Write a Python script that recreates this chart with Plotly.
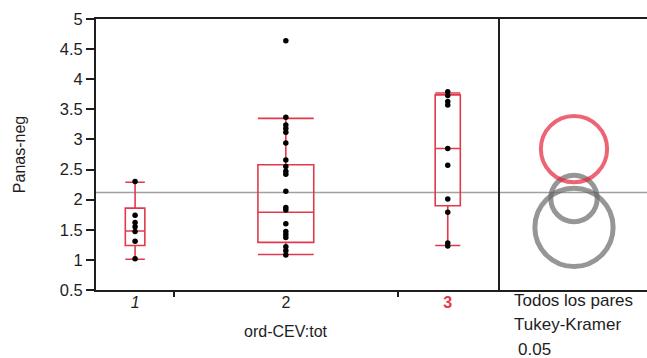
import numpy as np
import plotly.graph_objects as go

# ---------------- data ----------------
categories = ["1", "2", "3"]
category_labels = ["<i>1</i>", "2", "<span style='color:#E3384A'><b>3</b></span>"]
group_sizes = [7, 20, 9]          # JMP makes each category width proportional to n

g1_values = [2.30, 1.74, 1.62, 1.55, 1.47, 1.31, 1.02]
g2_values = [4.64, 3.37, 3.24, 3.18, 3.12, 2.94, 2.66, 2.55, 2.47, 2.42,
             2.14, 1.87, 1.83, 1.60, 1.47, 1.42, 1.37, 1.22, 1.15, 1.08]
g3_values = [3.79, 3.73, 3.63, 3.57, 2.85, 2.57, 2.01, 1.79, 1.28, 1.23]

box_q1 = [1.24, 1.29, 1.90]
box_median = [1.48, 1.79, 2.85]
box_q3 = [1.86, 2.58, 3.74]
box_lower_whisker = [1.01, 1.09, 1.24]
box_upper_whisker = [2.29, 3.35, 3.77]

grand_mean = 2.12
circle_centers = [1.54, 2.02, 2.84]   # group means
circle_radii = [0.65, 0.385, 0.55]    # comparison-circle radii (y units)
circle_colors = ["#6A6A6A", "#6A6A6A", "#E6243A"]
circle_widths = [5, 5, 4]

y_ticks = [0.5, 1, 1.5, 2, 2.5, 3, 3.5, 4, 4.5, 5]
y_title = "Panas-neg"
x_title = "ord-CEV:tot"
panel_text = ["Todos los pares", "Tukey-Kramer", "0.05"]

# ---------------- layout constants ----------------
W, H = 647, 358
ML, MR, MT, MB = 96, 0, 19, 68
plot_w = W - ML - MR
plot_h = H - MT - MB
main_w = 402
split = main_w / plot_w
y_range = [0.5, 5]
px_per_unit = plot_h / (y_range[1] - y_range[0])

BOX_RED = "#E23A4C"
FONT = "Liberation Sans, Arial, sans-serif"
TXT = "#1e1e1e"

bounds = np.concatenate([[0], np.cumsum(group_sizes)])
centers = (bounds[:-1] + bounds[1:]) / 2
groups = [g1_values, g2_values, g3_values]

fig = go.Figure()

for i, vals in enumerate(groups):
    fig.add_trace(go.Box(
        x=[centers[i]], q1=[box_q1[i]], median=[box_median[i]], q3=[box_q3[i]],
        lowerfence=[box_lower_whisker[i]], upperfence=[box_upper_whisker[i]],
        width=0.25 * group_sizes[i], whiskerwidth=1,
        line=dict(color=BOX_RED, width=1.6), fillcolor="rgba(0,0,0,0)",
        boxpoints=False, hoverinfo="skip", showlegend=False,
        xaxis="x", yaxis="y"))

for i, vals in enumerate(groups):
    fig.add_trace(go.Scatter(
        x=[centers[i]] * len(vals), y=vals, mode="markers",
        marker=dict(color="black", size=5.5), hoverinfo="skip",
        showlegend=False, xaxis="x", yaxis="y"))

# comparison circles
fig.add_trace(go.Scatter(
    x=[0] * len(circle_centers), y=circle_centers, mode="markers",
    marker=dict(symbol="circle-open",
                size=[2 * r * px_per_unit for r in circle_radii],
                color=circle_colors,
                line=dict(color=circle_colors, width=circle_widths)),
    hoverinfo="skip", showlegend=False, xaxis="x2", yaxis="y"))

fig.add_shape(type="line", xref="paper", yref="y", x0=0, x1=1,
              y0=grand_mean, y1=grand_mean,
              line=dict(color="#A0A0A0", width=1.5), layer="below")

fig.update_layout(
    width=W, height=H, margin=dict(l=ML, r=MR, t=MT, b=MB),
    paper_bgcolor="white", plot_bgcolor="white",
    font=dict(family=FONT, size=16, color=TXT),
    xaxis=dict(domain=[0, split], range=[bounds[0], bounds[-1]],
               showgrid=False, zeroline=False, showline=True, mirror=True,
               linecolor=TXT, linewidth=2,
               tickvals=list(centers), ticktext=category_labels,
               ticks="outside", ticklen=0, ticklabelstandoff=-3,
               minor=dict(tickvals=list(bounds[1:-1]), ticks="outside",
                          ticklen=5, tickcolor=TXT, tickwidth=1.5),
               tickfont=dict(size=16, color=TXT), anchor="y"),
    xaxis2=dict(domain=[split, 1], range=[-0.51, 0.49], showgrid=False,
                zeroline=False, showline=True, mirror=True,
                linecolor=TXT, linewidth=2, showticklabels=False,
                ticks="", anchor="y"),
    yaxis=dict(range=y_range, tickvals=y_ticks,
               ticktext=[f"{v:g}" for v in y_ticks],
               showgrid=False, zeroline=False, showline=True, mirror=True,
               linecolor=TXT, linewidth=2, ticks="outside", ticklen=8,
               tickcolor=TXT, tickwidth=1.5,
               tickfont=dict(size=16.5, color=TXT),
               title=dict(text=y_title, font=dict(size=16, color=TXT), standoff=30)),
)

fig.add_annotation(text=x_title, xref="paper", yref="paper",
                   x=(286 - ML) / plot_w, y=-(331 - MT - plot_h) / plot_h,
                   showarrow=False, font=dict(size=16, color=TXT),
                   xanchor="center", yanchor="middle")
for k, t in enumerate(panel_text):
    fig.add_annotation(text=t, xref="paper", yref="paper",
                       x=(512 + (4 if k == 2 else 0) - ML) / plot_w,
                       y=-(300 + 24.5 * k - MT - plot_h) / plot_h,
                       showarrow=False, font=dict(size=17, color=TXT),
                       xanchor="left", yanchor="middle")

fig.write_html("out.html", config={"displayModeBar": False},
               post_script="document.body.style.margin='0';"
                           "document.body.style.overflow='hidden';")
